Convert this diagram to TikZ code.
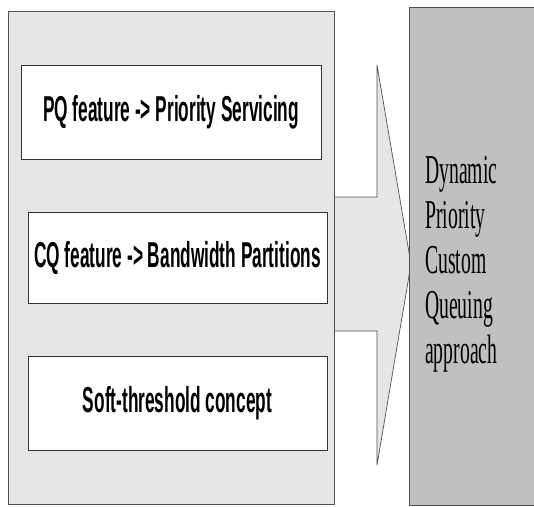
\documentclass[tikz,border=0pt]{standalone}
\usepackage{fontspec}
\newfontfamily\boxfont[FakeStretch=0.48]{Liberation Sans}
\newfontfamily\sidefont[FakeStretch=0.48]{Liberation Serif}
\definecolor{panelgray}{HTML}{E6E6E6}
\definecolor{darkpanel}{HTML}{C0C0C0}
\definecolor{edgegray}{HTML}{505050}
\definecolor{boxedge}{HTML}{333333}
\begin{document}
\begin{tikzpicture}[x=1pt,y=-1pt,
  panel/.style={draw=edgegray, line width=0.9pt, anchor=north west, inner sep=0pt},
  featbox/.style={draw=boxedge, fill=white, line width=0.9pt, inner sep=0pt,
    font=\boxfont\bfseries\fontsize{36}{40}\selectfont},
  blockarrow/.style={draw=edgegray, fill=panelgray, line width=0.7pt, line join=miter}]
\useasboundingbox (0,0) rectangle (534,506);
% block arrow (behind panels)
\coordinate (t1) at (300,197);
\coordinate (t2) at (377,197);
\coordinate (h1) at (377,65);
\coordinate (tip) at (411,264);
\coordinate (h2) at (377,465);
\coordinate (b2) at (377,331);
\coordinate (b1) at (300,331);
\draw[blockarrow] (t1) -- (t2) -- (h1) -- (tip) -- (h2) -- (b2) -- (b1) -- cycle;
% left panel
\node[panel, fill=panelgray, minimum width=326pt, minimum height=493pt] (leftpanel) at (8,11) {};
% right panel
\node[panel, fill=darkpanel, minimum width=140pt, minimum height=498pt] (rightpanel) at (409,7) {};
% feature boxes
\node[featbox, minimum width=300pt, minimum height=94pt] (pq) at (171,112) {PQ feature -> Priority Servicing};
\node[featbox, minimum width=299pt, minimum height=91pt] (cq) at (177.5,257.5) {CQ feature -> Bandwidth Partitions};
\node[featbox, minimum width=299pt, minimum height=94pt] (soft) at (177.5,403) {Soft-threshold concept};
% approach text
\node[anchor=north west, align=left, inner sep=0pt,
  font=\sidefont\fontsize{41}{45}\selectfont] (approach) at (425,156)
  {Dynamic\\Priority\\Custom\\Queuing\\approach};
\end{tikzpicture}
\end{document}
